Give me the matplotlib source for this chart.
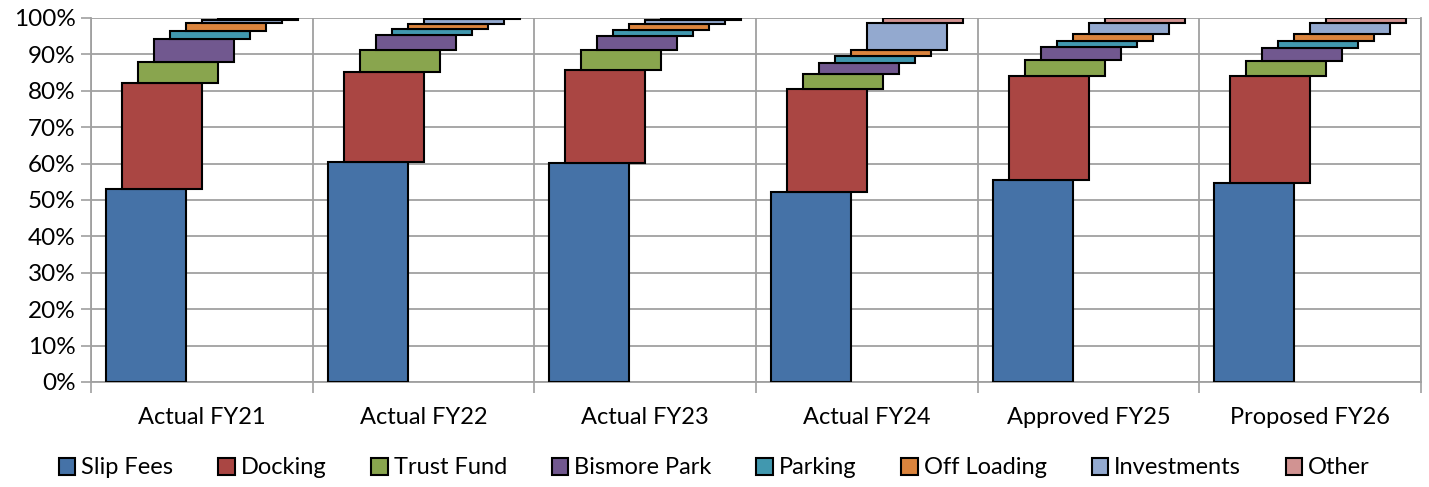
import matplotlib
matplotlib.use("Agg")
import matplotlib.pyplot as plt
from matplotlib.patches import Patch
import numpy as np

categories = ["Actual FY21", "Actual FY22", "Actual FY23", "Actual FY24", "Approved FY25", "Proposed FY26"]
series_names = ["Slip Fees", "Docking", "Trust Fund", "Bismore Park", "Parking", "Off Loading", "Investments", "Other"]
slip_fees    = [53.0, 60.4, 60.2, 52.1, 55.6, 54.8]
docking      = [29.1, 24.9, 25.4, 28.5, 28.4, 29.4]
trust_fund   = [5.9, 6.0, 5.7, 3.9, 4.5, 4.1]
bismore_park = [6.1, 3.9, 3.8, 3.1, 3.4, 3.4]
parking      = [2.4, 1.8, 1.6, 2.0, 1.9, 1.9]
off_loading  = [2.1, 1.4, 1.7, 1.6, 1.8, 1.9]
investments  = [0.9, 1.3, 1.1, 7.3, 2.9, 3.0]
other        = [0.5, 0.3, 0.5, 1.5, 1.5, 1.5]

colors = ["#4572A7", "#AA4643", "#89A54E", "#71588F", "#4198AF", "#DB843D", "#93A9CF", "#D19392"]

series = [slip_fees, docking, trust_fund, bismore_park, parking, off_loading, investments, other]

plt.rcParams['font.family'] = ['Lato', 'DejaVu Sans']

fig = plt.figure(figsize=(14.29, 4.87), dpi=100)
ax = fig.add_axes([91/1429, 1-382/487, (1421-91)/1429, (382-18)/487])

width = 80/221.5
shift = 16/221.5
offset = 15/221.5

bottoms = np.zeros(len(categories))
for j, (vals, col) in enumerate(zip(series, colors)):
    vals = np.array(vals, dtype=float)
    x = np.arange(len(categories)) + offset + j*shift
    ax.bar(x, vals, width=width, bottom=bottoms, align='edge', color=col,
           edgecolor='black', linewidth=1.5, zorder=3)
    bottoms += vals

ax.set_xlim(0, len(categories))
ax.set_ylim(0, 100)
ax.set_yticks(np.arange(0, 101, 10))
ax.set_yticklabels([f"{v}%" for v in range(0, 101, 10)], fontsize=17.5)
ax.set_xticks(np.arange(0, len(categories)+1))
ax.set_xticklabels([])
ax.set_xticks(np.arange(len(categories)) + 0.5, minor=True)
ax.set_xticklabels(categories, minor=True, fontsize=17)
ax.tick_params(axis='x', which='minor', length=0, pad=18)
ax.tick_params(axis='x', which='major', length=8, color='#a0a0a0', width=1.2)
ax.tick_params(axis='y', length=7, color='#a0a0a0', width=1.2, pad=4)

ax.grid(True, which='major', axis='both', color='#a0a0a0', linewidth=1.3, zorder=0)
for s in ['top']:
    ax.spines[s].set_visible(False)
for s in ['left', 'bottom', 'right']:
    ax.spines[s].set_color('#a0a0a0')
    ax.spines[s].set_linewidth(1.3)

handles = [Patch(facecolor=c, edgecolor='black', linewidth=1.5, label=n) for c, n in zip(colors, series_names)]
fig.legend(handles=handles, loc='center', bbox_to_anchor=(0.5, 1-468/487), ncol=8, frameon=False,
           fontsize=17, handlelength=0.7, handleheight=0.7, handletextpad=0.25, columnspacing=1.9)

fig.savefig("out.png", dpi=100)
